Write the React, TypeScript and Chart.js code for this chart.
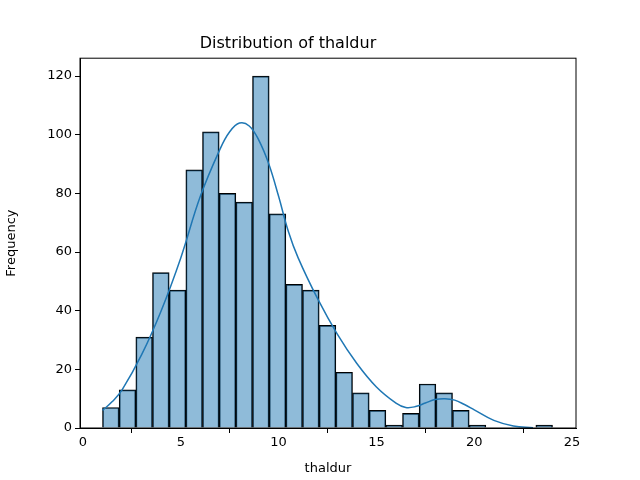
import React, { useEffect, useRef } from "react";
import { Chart, registerables } from "chart.js";
Chart.register(...registerables);

const binStart = 1.0;
const binWidth = 23 / 27;
const counts = [7, 13, 31, 53, 47, 88, 101, 80, 77, 120, 73, 49, 47, 35, 19, 12, 6, 1, 5, 15, 12, 6, 1, 0, 0, 0, 1];
const kdeX = [1, 1.5, 2, 3, 4, 5, 6, 7, 7.5, 8, 8.5, 9, 9.5, 10, 10.5, 11, 12, 13, 14, 15, 16, 16.5, 17, 17.5, 18, 18.5, 19, 19.5, 20, 21, 22, 23];
const kdeY = [6, 9, 13, 25, 40, 58, 79, 95, 101, 104, 103, 98, 90, 79, 67, 58, 44, 32, 22, 14, 8.5, 7, 7.3, 8.5, 9.7, 10, 9.5, 8, 6.2, 2.6, 0.7, 0.1];
const xTicks = [0, 5, 10, 15, 20, 25];
const yTicks = [0, 20, 40, 60, 80, 100, 120];

const boxPlugin = {
  id: "box",
  afterDraw(chart: any) {
    const { ctx, chartArea: a } = chart;
    ctx.save();
    ctx.strokeStyle = "#000";
    ctx.lineWidth = 1;
    ctx.strokeRect(a.left, a.top, a.right - a.left, a.bottom - a.top);
    ctx.restore();
  },
};

export default function App() {
  const ref = useRef<HTMLCanvasElement>(null);
  useEffect(() => {
    const font = { family: "DejaVu Sans", size: 13 };
    const grid = { display: true, drawOnChartArea: false, drawTicks: true, tickLength: 5, tickColor: "#000" };
    const chart = new Chart(ref.current!, {
      data: {
        datasets: [
          {
            type: "line",
            data: kdeX.map((x, i) => ({ x, y: kdeY[i] })),
            borderColor: "#1f77b4",
            borderWidth: 1.5,
            pointRadius: 0,
            tension: 0.4,
            order: 0,
          } as any,
          {
            type: "bar",
            data: counts.map((c, i) => ({ x: binStart + binWidth * (i + 0.5), y: c })),
            backgroundColor: "rgba(31,119,180,0.5)",
            borderColor: "#000",
            borderWidth: 1,
            barPercentage: 1,
            categoryPercentage: 1,
            order: 1,
          } as any,
        ],
      },
      options: {
        responsive: false,
        animation: false,
        layout: { padding: { left: 0, right: 64, top: 0, bottom: 0 } },
        plugins: {
          legend: { display: false },
          tooltip: { enabled: false },
          title: {
            display: true,
            text: "Distribution of thaldur",
            color: "#000",
            font: { family: "DejaVu Sans", size: 16, weight: "normal" },
            padding: { top: 34, bottom: 5 },
          },
        },
        scales: {
          x: {
            type: "linear",
            offset: false,
            min: -0.15,
            max: 25.2,
            afterBuildTicks: (s: any) => { s.ticks = xTicks.map((v) => ({ value: v })); },
            grid,
            border: { color: "#000" },
            ticks: { color: "#000", font, padding: 2, maxRotation: 0 },
            title: { display: true, text: "thaldur", color: "#000", font, padding: { top: 1 } },
            afterFit: (s: any) => { s.height = 52; },
          },
          y: {
            min: 0,
            max: 126.1,
            afterBuildTicks: (s: any) => { s.ticks = yTicks.map((v) => ({ value: v })); },
            grid,
            border: { color: "#000" },
            ticks: { color: "#000", font, padding: 3 },
            title: { display: true, text: "Frequency", color: "#000", font, padding: { bottom: 6 } },
            afterFit: (s: any) => { s.width = 80; },
          },
        },
      },
      plugins: [boxPlugin],
    });
    return () => chart.destroy();
  }, []);
  return (
    <div style={{ position: "absolute", left: 0, top: 0, background: "#fff" }}>
      <canvas ref={ref} width={640} height={480} style={{ width: 640, height: 480 }} />
    </div>
  );
}
